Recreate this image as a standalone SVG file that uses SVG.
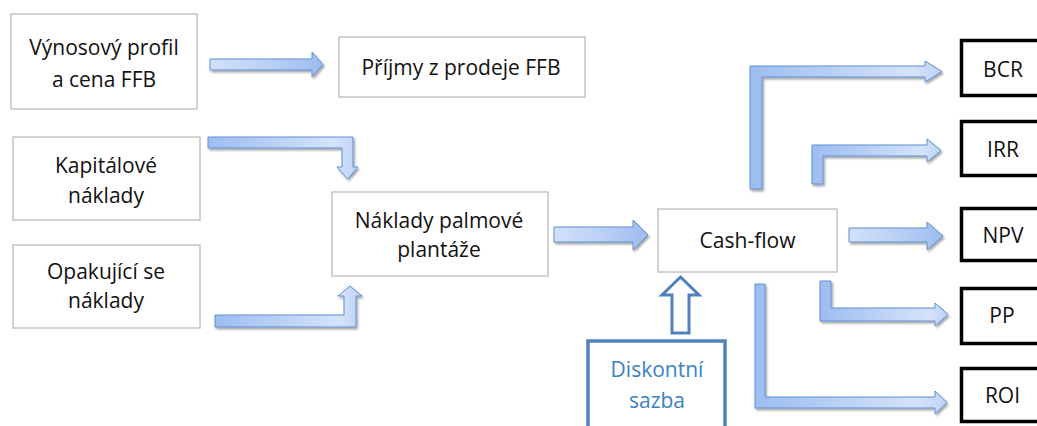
<svg xmlns="http://www.w3.org/2000/svg" width="1037" height="426" viewBox="0 0 1037 426">
  <style>
    .box { fill: #ffffff; stroke: #c4c4c4; stroke-width: 1.5; }
    .res { fill: #ffffff; stroke: #000000; stroke-width: 3.5; }
    .disc { fill: #ffffff; stroke: #4f81bd; stroke-width: 3.5; }
    .t { font-family: "Open Sans", "Noto Sans", "Liberation Sans", sans-serif; font-size: 21px; fill: #111111; text-anchor: middle; }
    .tb { fill: #3a82c6; }
    .arr { stroke: #5f8fd3; stroke-width: 1; filter: url(#sh); }
    .el { fill: url(#gEl); }
    .st { fill: url(#gSt); }
    .hollow { fill: #ffffff; stroke: #4f81bd; stroke-width: 3; stroke-linejoin: miter; }
  </style>
  <defs>
    <linearGradient id="gEl" x1="0" y1="0" x2="1" y2="0">
      <stop offset="0" stop-color="#9dbdf0"/>
      <stop offset="0.85" stop-color="#d5e3fa"/>
      <stop offset="1" stop-color="#bcd2f6"/>
    </linearGradient>
    <linearGradient id="gSt" x1="0" y1="0" x2="1" y2="0">
      <stop offset="0" stop-color="#d2e1fa"/>
      <stop offset="0.6" stop-color="#b6cdf4"/>
      <stop offset="1" stop-color="#9bbcef"/>
    </linearGradient>
    <filter id="sh" x="-10%" y="-10%" width="130%" height="140%">
      <feDropShadow dx="1.5" dy="2" stdDeviation="1.2" flood-color="#000000" flood-opacity="0.35"/>
    </filter>
  </defs>

  <g id="connectors">
    <path class="arr st" d="M210,59 H312 V52 L323,64.5 L312,77 V70 H210 Z"/>
    <path class="arr el" d="M208,137 H353 V167 H358 L347.5,179 L337,167 H342 V148 H208 Z"/>
    <path class="arr el" d="M215,327 H356 V296 H362 L350,286 L338,296 H344 V315 H215 Z"/>
    <path class="arr st" d="M554,227 H633 V220 L648,235 L633,250 V242 H554 Z"/>
    <path class="hollow" d="M672,333 V295 H662 L680.5,277 L699,295 H689 V333 Z"/>
    <path class="arr el" d="M750,189 V66 H925 V61 L942,71.5 L925,82 V77 H762 V189 Z"/>
    <path class="arr el" d="M812,184 V145 H927 V139 L941,150.5 L927,162 V156 H823 V184 Z"/>
    <path class="arr st" d="M849,228 H927 V222 L943,236 L927,250 V242 H849 Z"/>
    <path class="arr el" d="M820,281 H831 V308 H935 V303 L948,314.5 L935,326 V321 H820 Z"/>
    <path class="arr el" d="M755,284 H765 V397 H935 V391 L947,402.5 L935,414 V408 H755 Z"/>
  </g>

  <g id="vynosovy">
    <rect class="box" x="11" y="14" width="186" height="95"/>
    <text class="t" x="104" y="55">Výnosový profil</text>
    <text class="t" x="104" y="87">a cena FFB</text>
  </g>
  <g id="prijmy">
    <rect class="box" x="339" y="37" width="246" height="60"/>
    <text class="t" x="461" y="75">Příjmy z prodeje FFB</text>
  </g>
  <g id="kapitalove">
    <rect class="box" x="13" y="137" width="187" height="83"/>
    <text class="t" x="106" y="173">Kapitálové</text>
    <text class="t" x="106" y="203">náklady</text>
  </g>
  <g id="opakujici">
    <rect class="box" x="13" y="245" width="187" height="83"/>
    <text class="t" x="106" y="279">Opakující se</text>
    <text class="t" x="106" y="308">náklady</text>
  </g>
  <g id="naklady">
    <rect class="box" x="332" y="192" width="216" height="84"/>
    <text class="t" x="439" y="228">Náklady palmové</text>
    <text class="t" x="439" y="257">plantáže</text>
  </g>
  <g id="cashflow">
    <rect class="box" x="658" y="209" width="179" height="63"/>
    <text class="t" x="747.5" y="248">Cash-flow</text>
  </g>
  <g id="diskontni">
    <rect class="disc" x="588" y="341" width="137" height="100"/>
    <text class="t tb" x="657" y="377">Diskontní</text>
    <text class="t tb" x="657" y="408">sazba</text>
  </g>
  <g id="bcr">
    <rect class="res" x="961.5" y="40.5" width="100" height="55"/>
    <text class="t" x="1003" y="77">BCR</text>
  </g>
  <g id="irr">
    <rect class="res" x="961.5" y="121.5" width="100" height="54"/>
    <text class="t" x="1003" y="157">IRR</text>
  </g>
  <g id="npv">
    <rect class="res" x="961.5" y="208.5" width="100" height="52"/>
    <text class="t" x="1003" y="243">NPV</text>
  </g>
  <g id="pp">
    <rect class="res" x="961.5" y="288.5" width="100" height="55"/>
    <text class="t" x="1002" y="323">PP</text>
  </g>
  <g id="roi">
    <rect class="res" x="961.5" y="368.5" width="100" height="53"/>
    <text class="t" x="1002.5" y="403">ROI</text>
  </g>
</svg>
